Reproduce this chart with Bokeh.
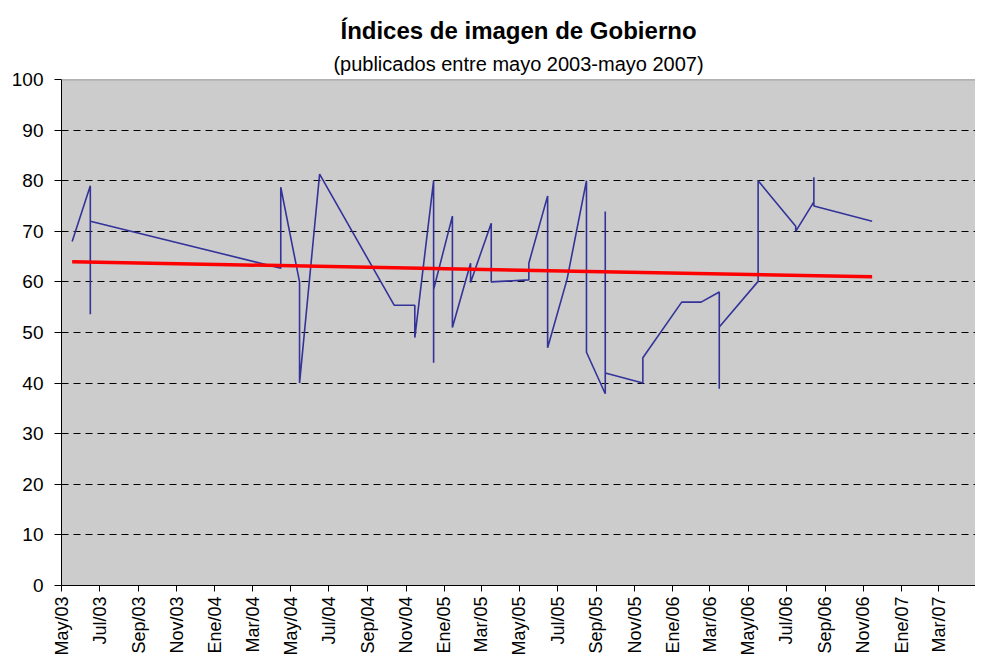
import math
import pandas as pd
from bokeh.plotting import figure
from bokeh.models import (Title, FixedTicker, CustomJSTickFormatter, Range1d, Span,
                          ColumnDataSource)
from bokeh.embed import file_html
from bokeh.resources import INLINE

# ---------------- data ----------------
poll_dates = ["2003-05-18", "2003-06-16", "2003-06-16", "2003-06-16",
              "2004-04-15", "2004-04-15", "2004-05-15", "2004-05-15",
              "2004-06-16", "2004-10-13", "2004-11-15", "2004-11-15",
              "2004-12-15", "2004-12-15", "2004-12-15", "2005-01-14",
              "2005-01-14", "2005-02-12", "2005-02-12", "2005-03-17",
              "2005-03-17", "2005-05-16", "2005-05-16", "2005-06-15",
              "2005-06-15", "2005-07-16", "2005-08-16", "2005-08-16",
              "2005-09-15", "2005-09-15", "2005-09-15", "2005-11-14",
              "2005-11-14", "2006-01-15", "2006-02-15", "2006-03-16",
              "2006-03-16", "2006-03-16", "2006-05-17", "2006-05-17",
              "2006-07-16", "2006-07-16", "2006-08-14", "2006-08-14",
              "2006-08-14", "2006-11-15"]
poll_values = [68.0, 79.0, 53.6, 72.0,
               62.7, 78.7, 60.0, 40.0,
               81.3, 55.4, 55.4, 49.0,
               80.0, 44.0, 58.5, 73.0,
               51.0, 63.7, 59.9, 71.6,
               60.0, 60.4, 63.7, 77.0,
               47.0, 60.5, 80.0, 46.1,
               37.9, 73.9, 42.0, 40.0,
               45.0, 56.0, 56.0, 58.0,
               38.9, 51.1, 60.1, 80.0,
               71.0, 70.0, 75.8, 80.7,
               75.0, 72.0]

trend_dates = ["2003-05-18", "2006-11-15"]
trend_values = [64.0, 61.0]

tick_dates = ["2003-05-01", "2003-07-01", "2003-09-01", "2003-11-01",
              "2004-01-01", "2004-03-01", "2004-05-01", "2004-07-01",
              "2004-09-01", "2004-11-01", "2005-01-01", "2005-03-01",
              "2005-05-01", "2005-07-01", "2005-09-01", "2005-11-01",
              "2006-01-01", "2006-03-01", "2006-05-01", "2006-07-01",
              "2006-09-01", "2006-11-01", "2007-01-01", "2007-03-01",
              "2007-05-01"]
tick_labels = ["May/03", "Jul/03", "Sep/03", "Nov/03",
               "Ene/04", "Mar/04", "May/04", "Jul/04",
               "Sep/04", "Nov/04", "Ene/05", "Mar/05",
               "May/05", "Jul/05", "Sep/05", "Nov/05",
               "Ene/06", "Mar/06", "May/06", "Jul/06",
               "Sep/06", "Nov/06", "Ene/07", "Mar/07",
               "May/07"]
y_ticks = [0, 10, 20, 30, 40, 50, 60, 70, 80, 90, 100]

title_text = "Índices de imagen de Gobierno"
subtitle_text = "(publicados entre mayo 2003-mayo 2007)"

x_start = "2003-05-01"
x_end = "2007-04-29"

# ---------------- figure ----------------
FONT = "Liberation Sans"

p = figure(width=975, height=658, x_axis_type="datetime",
           x_range=Range1d(pd.Timestamp(x_start), pd.Timestamp(x_end)),
           y_range=Range1d(0, 100),
           output_backend="svg", toolbar_location=None, title=None,
           min_border_left=61, min_border_right=0, min_border_top=79,
           min_border_bottom=71)

p.background_fill_color = "#cccccc"
p.border_fill_color = "white"
p.outline_line_color = None

sub = Title(text=subtitle_text, align="center", text_font=FONT,
            text_font_size="20px", text_font_style="normal",
            text_color="black", offset=-11.5, standoff=10)
main = Title(text=title_text, align="center", text_font=FONT,
             text_font_size="24px", text_font_style="bold",
             text_color="black", offset=-12.5, standoff=3)
p.add_layout(sub, "above")
p.add_layout(main, "above")

# poll line
src = ColumnDataSource(dict(x=pd.to_datetime(poll_dates), y=poll_values))
p.line("x", "y", source=src, line_color="#333399", line_width=1.6)

# trend line
tsrc = ColumnDataSource(dict(x=pd.to_datetime(trend_dates), y=trend_values))
p.line("x", "y", source=tsrc, line_color="#ff0000", line_width=3.5)

# top border
p.add_layout(Span(location=100, dimension="width", line_color="#808080",
                  line_width=1.5))

# axes
tick_ms = [int(pd.Timestamp(d).value // 10**6) for d in tick_dates]
xa = p.xaxis[0]
xa.ticker = FixedTicker(ticks=tick_ms)
xa.formatter = CustomJSTickFormatter(
    args=dict(vals=tick_ms, labs=tick_labels),
    code="""
for (let i = 0; i < vals.length; i++) {
  if (Math.abs(vals[i] - tick) < 1e6) { return labs[i]; }
}
return '';
""")
xa.major_label_orientation = math.pi / 2
xa.major_label_text_font = FONT
xa.major_label_text_font_size = "18px"
xa.major_label_text_color = "black"
xa.major_label_standoff = 5
xa.major_tick_out = 6
xa.major_tick_in = 0
xa.minor_tick_out = 0
xa.minor_tick_in = 0
xa.axis_line_color = "black"
xa.major_tick_line_color = "black"

ya = p.yaxis[0]
ya.ticker = FixedTicker(ticks=y_ticks)
ya.major_label_text_font = FONT
ya.major_label_text_font_size = "19px"
ya.major_label_text_color = "black"
ya.major_label_standoff = 11
ya.major_tick_out = 7
ya.major_tick_in = 0
ya.minor_tick_out = 0
ya.minor_tick_in = 0
ya.axis_line_color = "black"
ya.major_tick_line_color = "black"

p.xgrid.visible = False
p.ygrid.grid_line_color = "black"
p.ygrid.grid_line_dash = "7 5"
p.ygrid.grid_line_width = 1

open("out.html", "w").write(file_html(p, INLINE))
